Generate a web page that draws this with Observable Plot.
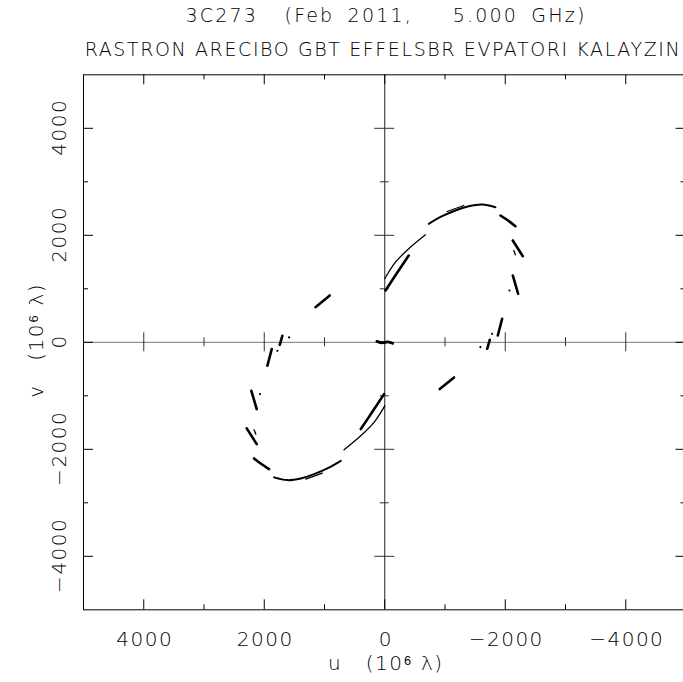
<!DOCTYPE html>
<html><head><meta charset="utf-8">
<script src="https://cdn.jsdelivr.net/npm/d3@7"></script>
<script src="https://cdn.jsdelivr.net/npm/@observablehq/plot@0.6"></script>
<style>
body{margin:0;background:#fff;overflow:hidden;}
#head{position:relative;height:60px;width:683px;font-family:"DejaVu Sans",sans-serif;font-weight:200;color:#000;}
.t{position:absolute;white-space:pre;font-size:19px;line-height:22px;transform:translateX(-50%);}
#chart svg{font-family:"DejaVu Sans",sans-serif;font-weight:200;}
</style></head><body>
<div id="head">
  <div class="t" id="t1" style="top:4px;left:386px;letter-spacing:2.2px;word-spacing:5px;"></div>
  <div class="t" id="t2" style="top:38px;left:383px;letter-spacing:1.6px;"></div>
</div>
<div id="chart"></div>
<script>
const titleText = "3C273  (Feb 2011,   5.000 GHz)";
const subtitleText = "RASTRON ARECIBO GBT EFFELSBR EVPATORI KALAYZIN";
const xLabel = "u   (10\u2076 \u03bb)";
const yLabel = "v   (10\u2076 \u03bb)";

// Tick values and labels (10^6 lambda)
const majorTicks = [-4000, -2000, 0, 2000, 4000];
const minorTicks = [-3000, -1000, 1000, 3000];
const tickLabels = ["\u22124000", "\u22122000", "0", "2000", "4000"];

// uv tracks (upper half); the conjugate points (-u,-v) are drawn too
const thinTracks = [
  [[0, 1187], [-178, 1497], [-398, 1748], [-676, 2009]],
  [[-1035, 2445], [-1311, 2557]],
  [[-2141, 1716], [-2169, 1636]]
];
const mediumTracks = [
  [[-730, 2215], [-952, 2357], [-1173, 2464], [-1394, 2544], [-1616, 2576], [-1837, 2525]]
];
const thickTracks = [
  [[-12, 968], [-200, 1290], [-398, 1622]],
  [[-1920, 2370], [-2060, 2265], [-2169, 2170]],
  [[-2125, 1903], [-2291, 1609]],
  [[-2125, 1249], [-2214, 907]],
  [[-1948, 439], [-1876, 127]],
  [[-1743, 47], [-1700, -121]],
  [[1150, 656], [913, 875]],
  [[130, 20], [40, -5], [-50, 10], [-130, -15]]
];
const dotPoints = [[-2070, 968], [-1782, 159], [-1588, -92]];

function toRows(tracks, name) {
  const rows = [];
  tracks.forEach((seg, i) => {
    seg.forEach(([u, v]) => rows.push({track: name + "a" + i, u, v}));
    seg.forEach(([u, v]) => rows.push({track: name + "b" + i, u: -u, v: -v}));
  });
  return rows;
}
const thinRows = toRows(thinTracks, "thin");
const medRows = toRows(mediumTracks, "med");
const thickRows = toRows(thickTracks, "thick");
const dotRows = dotPoints.flatMap(([u, v]) => [{u, v}, {u: -u, v: -v}]);

document.getElementById("t1").textContent = titleText;
document.getElementById("t2").textContent = subtitleText;

const W = 683, H = 622;
const mL = 83, mR = -2.5, mT = 14.3, mB = 72.7;
const frameW = W - mL - mR, frameH = H - mT - mB;
const bigT = 10, smallT = 5;
const z = () => 0;
const labelOf = d => tickLabels[majorTicks.indexOf(d)];
const otherTicks = majorTicks.filter(d => d !== 0);

const chart = Plot.plot({
  width: W, height: H,
  marginLeft: mL, marginRight: mR, marginTop: mT, marginBottom: mB,
  x: {domain: [5000, -5000], axis: null},
  y: {domain: [-5000, 5000], axis: null},
  style: {fontFamily: "DejaVu Sans, sans-serif", fontSize: "20px", color: "black", whiteSpace: "pre"},
  marks: [
    Plot.frame({stroke: "black", strokeWidth: 1}),
    // centre axes
    Plot.ruleY([0], {stroke: "#777"}),
    Plot.ruleX([0], {stroke: "#222"}),
    // frame ticks
    Plot.ruleX(majorTicks, {x: d => d, insetTop: frameH - bigT, stroke: "black"}),
    Plot.ruleX(minorTicks, {x: d => d, insetTop: frameH - smallT, stroke: "black"}),
    Plot.ruleX(majorTicks, {x: d => d, insetBottom: frameH - bigT, stroke: "black"}),
    Plot.ruleX(minorTicks, {x: d => d, insetBottom: frameH - smallT, stroke: "black"}),
    Plot.ruleY(majorTicks, {y: d => d, insetRight: frameW - bigT, stroke: "black"}),
    Plot.ruleY(minorTicks, {y: d => d, insetRight: frameW - smallT, stroke: "black"}),
    Plot.ruleY(majorTicks, {y: d => d, insetLeft: frameW - bigT, stroke: "black"}),
    Plot.ruleY(minorTicks, {y: d => d, insetLeft: frameW - smallT, stroke: "black"}),
    // ticks on the centre axes
    Plot.ruleX(otherTicks, {x: d => d, y1: z, y2: z, insetTop: -9.5, insetBottom: -9.5, stroke: "#333"}),
    Plot.ruleX(minorTicks, {x: d => d, y1: z, y2: z, insetTop: -4.5, insetBottom: -4.5, stroke: "#333"}),
    Plot.ruleY(otherTicks, {y: d => d, x1: z, x2: z, insetLeft: -10, insetRight: -10, stroke: "#333"}),
    Plot.ruleY(minorTicks, {y: d => d, x1: z, x2: z, insetLeft: -4.5, insetRight: -4.5, stroke: "#333"}),
    // uv tracks
    Plot.line(thinRows, {x: "u", y: "v", z: "track", stroke: "black", strokeWidth: 1.3, curve: "catmull-rom"}),
    Plot.line(medRows, {x: "u", y: "v", z: "track", stroke: "black", strokeWidth: 2, curve: "catmull-rom"}),
    Plot.line(thickRows, {x: "u", y: "v", z: "track", stroke: "black", strokeWidth: 2.6, strokeLinecap: "round", curve: "catmull-rom"}),
    Plot.dot(dotRows, {x: "u", y: "v", r: 1.1, fill: "black"}),
    // tick labels
    Plot.text(majorTicks, {x: d => d, text: labelOf, frameAnchor: "bottom", lineAnchor: "middle", textAnchor: "middle", dy: 30, dx: 1, fill: "black", style: "letter-spacing:1px"}),
    Plot.text(majorTicks, {y: d => d, text: labelOf, frameAnchor: "left", lineAnchor: "middle", textAnchor: "middle", dx: -24, dy: -1, rotate: -90, fill: "black"}),
    // axis titles
    Plot.text([xLabel], {text: d => d, frameAnchor: "bottom", lineAnchor: "middle", textAnchor: "middle", dy: 54, dx: 1, fill: "black"}),
    Plot.text([yLabel], {text: d => d, frameAnchor: "left", lineAnchor: "middle", textAnchor: "middle", dx: -47, dy: -2, rotate: -90, fill: "black"})
  ]
});
chart.querySelectorAll("text").forEach(t => t.style.letterSpacing = "1.5px");
document.getElementById("chart").appendChild(chart);
</script>
</body></html>
